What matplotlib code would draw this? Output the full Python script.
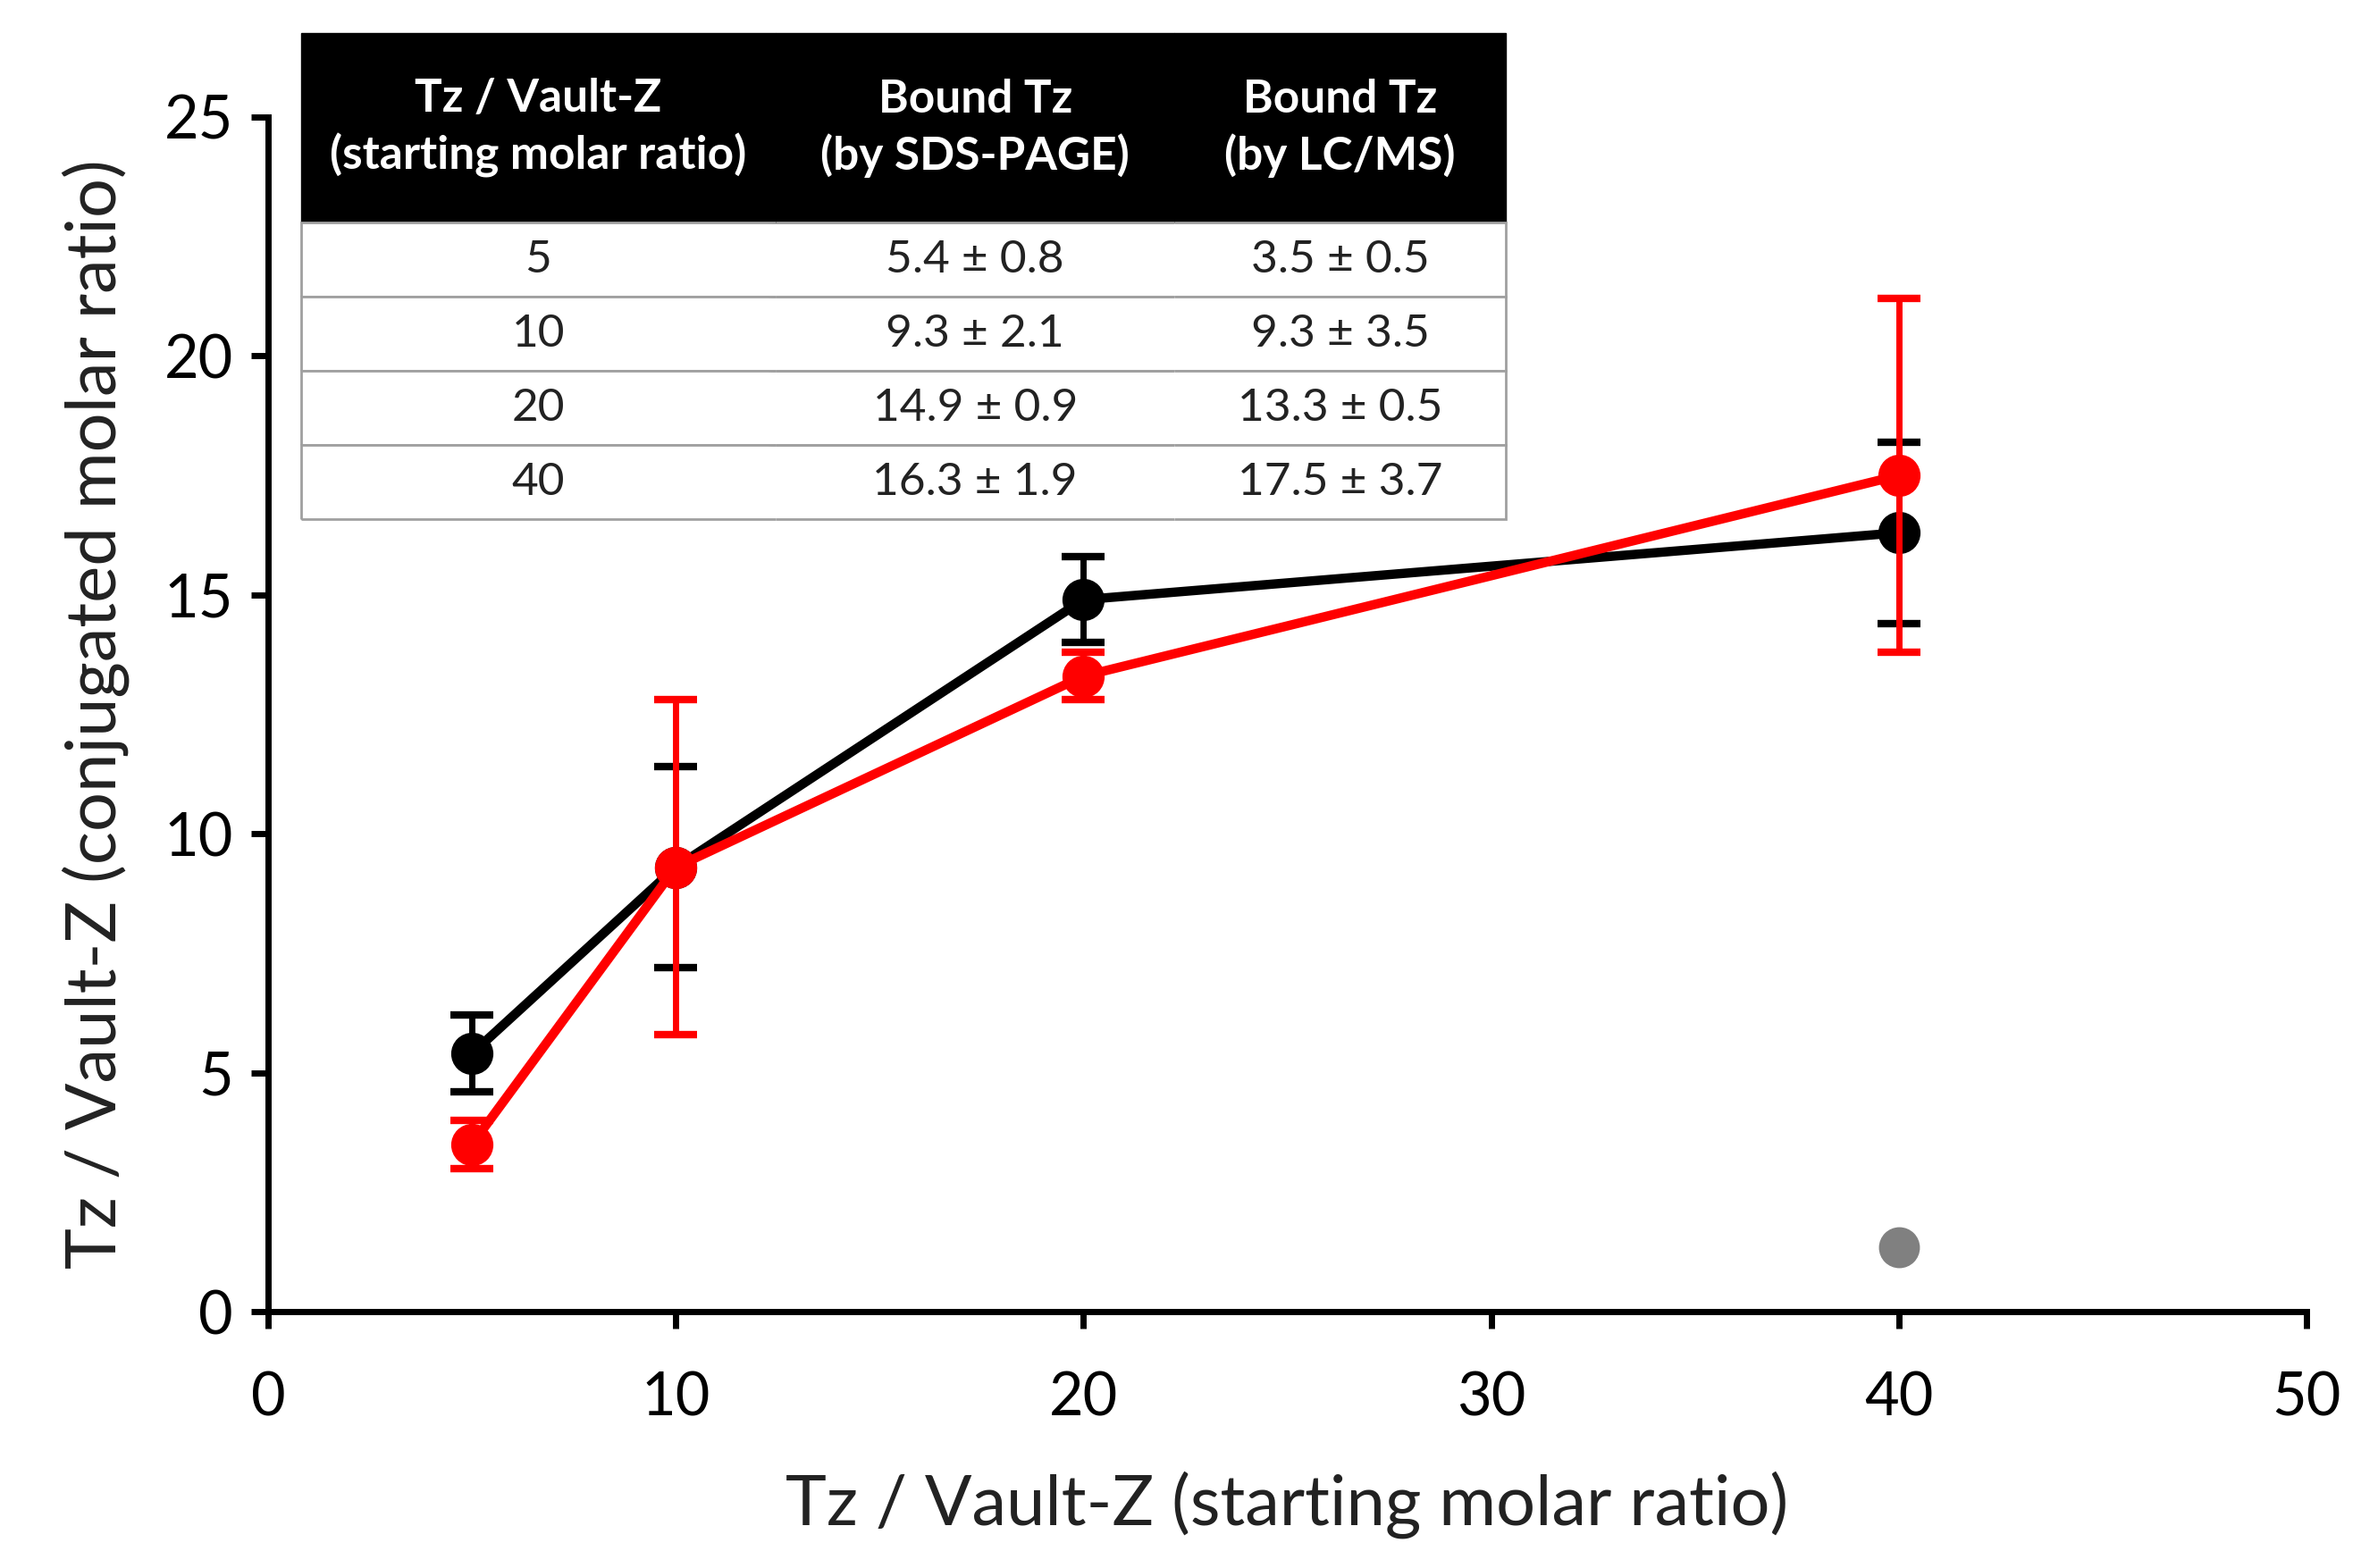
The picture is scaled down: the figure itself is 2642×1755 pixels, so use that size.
import numpy as np
import matplotlib.pyplot as plt

plt.rcParams['font.family'] = ['Lato', 'DejaVu Sans']

# data
ratio = [5, 10, 20, 40]
sdsMean = [5.4, 9.3, 14.9, 16.3]
sdsErr = [0.8, 2.1, 0.9, 1.9]
lcmsMean = [3.5, 9.3, 13.3, 17.5]
lcmsErr = [0.5, 3.5, 0.5, 3.7]
greyX = [40]
greyY = [1.35]

tableHeader = ['Tz / Vault-Z\n(starting molar ratio)', 'Bound Tz\n(by SDS-PAGE)', 'Bound Tz\n(by LC/MS)']
tableRows = [['5', '5.4 ± 0.8', '3.5 ± 0.5'],
             ['10', '9.3 ± 2.1', '9.3 ± 3.5'],
             ['20', '14.9 ± 0.9', '13.3 ± 0.5'],
             ['40', '16.3 ± 1.9', '17.5 ± 3.7']]

W, H = 2642, 1755
fig = plt.figure(figsize=(W/100, H/100), dpi=100)
ax = fig.add_axes([300/W, 1-1468/H, (2581-300)/W, (1468-131)/H])

ax.errorbar(ratio, sdsMean, yerr=sdsErr, color='k', lw=7.5, marker='o', ms=33,
            elinewidth=5, capsize=17, capthick=6, zorder=3)
ax.errorbar(ratio, lcmsMean, yerr=lcmsErr, color='#ff0000', lw=7.5, marker='o', ms=33,
            elinewidth=5, capsize=17, capthick=6, zorder=4)
ax.plot(greyX, greyY, 'o', color='#808080', ms=32, zorder=2)

ax.set_xlim(0, 50)
ax.set_ylim(0, 25)
ax.set_xticks([0, 10, 20, 30, 40, 50])
ax.set_yticks([0, 5, 10, 15, 20, 25])
for s in ['top', 'right']:
    ax.spines[s].set_visible(False)
for s in ['left', 'bottom']:
    ax.spines[s].set_linewidth(5)
ax.spines['bottom'].set_clip_on(False)
ax.tick_params(direction='out', length=14, width=5, labelsize=48, colors='#000000', pad=14)
ax.tick_params(axis='x', pad=34)
ax.set_xlabel('Tz / Vault-Z (starting molar ratio)', fontsize=56, labelpad=36, color='#222222')
ax.set_ylabel('Tz / Vault-Z (conjugated molar ratio)', fontsize=56, labelpad=28, color='#222222')

# inset table
tax = fig.add_axes([337/W, 1-581/H, (1685-337)/W, (581-37)/H])
tax.axis('off')
tbl = tax.table(cellText=[tableHeader] + tableRows, cellLoc='center',
                colWidths=[0.394, 0.331, 0.275], bbox=[0, 0, 1, 1])
tbl.auto_set_font_size(False)
hdr = 0.39
bodyH = (1 - hdr) / 4
for (r, c), cell in tbl.get_celld().items():
    if r == 0:
        cell.set_height(hdr)
        cell.set_facecolor('black')
        cell.set_edgecolor('black')
        cell.get_text().set_color('white')
        cell.get_text().set_fontweight('bold')
        cell.get_text().set_fontsize(37)
        cell.get_text().set_linespacing(1.35)
        cell.visible_edges = 'closed'
    else:
        cell.set_height(bodyH)
        cell.set_edgecolor('#a0a0a0')
        cell.set_linewidth(2)
        cell.get_text().set_fontsize(37)
        cell.get_text().set_color('#222222')
        if c == 0:
            cell.visible_edges = 'LTB'
        elif c == 2:
            cell.visible_edges = 'RTB'
        else:
            cell.visible_edges = 'TB'

fig.savefig('out.png', dpi=100)
